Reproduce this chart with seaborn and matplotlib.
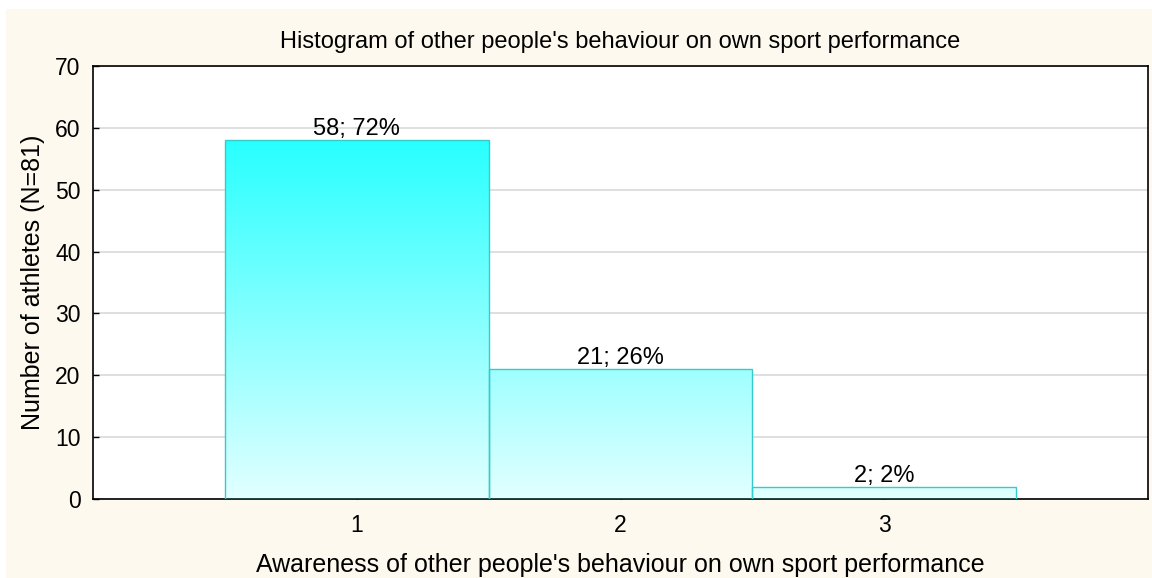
import numpy as np
import pandas as pd
import matplotlib
matplotlib.use("Agg")
import matplotlib.pyplot as plt
import seaborn as sns
from matplotlib.colors import LinearSegmentedColormap
from matplotlib.patches import Rectangle

# Data
categories = [1, 2, 3]
counts = [58, 21, 2]
n_total = 81

title = "Histogram of other people's behaviour on own sport performance"
xlabel = "Awareness of other people's behaviour on own sport performance"
ylabel = "Number of athletes (N=81)"

sns.set_style("white")
plt.rcParams['font.family'] = ['Liberation Sans', 'DejaVu Sans']
plt.rcParams.update({"text.color": "black", "axes.labelcolor": "black",
                     "xtick.color": "black", "ytick.color": "black"})

df = pd.DataFrame({"level": categories, "count": counts})

fig = plt.figure(figsize=(11.52, 5.78), dpi=100, facecolor="white")
# cream panel behind everything (small white strip on top/left like the original)
fig.patches.append(Rectangle((6 / 1152, 0), 1, (578 - 9) / 578, transform=fig.transFigure,
                             facecolor="#fdf9ee", edgecolor="none", zorder=-10))
ax = fig.add_axes([93 / 1152, 1 - 499 / 578, (1148 - 93) / 1152, (499 - 66) / 578])
ax.set_facecolor("white")

sns.barplot(data=df, x="level", y="count", native_scale=True, width=1.0,
            color="#99ffff", edgecolor="#33cccc", linewidth=1.0, ax=ax, zorder=3)

# vertical cyan gradient, strongest near the top of the tallest bar
cmap = LinearSegmentedColormap.from_list("cy", ["#e2ffff", "#22ffff"])
grad = np.linspace(0, 1, 256).reshape(-1, 1)
for p in ax.patches:
    im = ax.imshow(grad, cmap=cmap, origin="lower", aspect="auto",
                   extent=[0, 4, 0, 60], zorder=2.5, interpolation="bicubic")
    im.set_clip_path(p)
    p.set_facecolor("none")

for x, c in zip(categories, counts):
    ax.annotate(f"{c}; {round(100 * c / n_total)}%", (x, c), xytext=(0, 0),
                textcoords="offset points", ha="center", va="bottom", fontsize=17, zorder=5)

ax.set_xlim(0, 4)
ax.set_ylim(0, 70)
ax.set_xticks(categories)
ax.set_yticks(range(0, 71, 10))
ax.yaxis.grid(True, color="#d9d9d9", linewidth=1.2, zorder=0)
ax.set_axisbelow(True)
ax.tick_params(axis="both", direction="in", length=4, width=1, labelsize=16.5,
               left=True, bottom=True, color="black")
ax.tick_params(axis="y", pad=9)
ax.tick_params(axis="x", pad=11)
for s in ax.spines.values():
    s.set_color("black")
    s.set_linewidth(1.2)

ax.set_title(title, fontsize=17, pad=13)
ax.set_xlabel(xlabel, fontsize=18, labelpad=11)
ax.set_ylabel(ylabel, fontsize=18, labelpad=7)

fig.savefig("out.png", dpi=100, facecolor=fig.get_facecolor())
